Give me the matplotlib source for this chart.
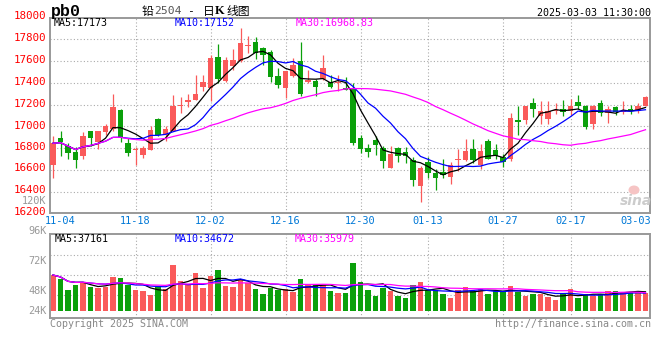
import matplotlib
matplotlib.use('Agg')
import numpy as np
import pandas as pd
import matplotlib.pyplot as plt
from matplotlib.patches import Ellipse

# ---------------- data ----------------
holidays = ['2025-01-01', '2025-01-28', '2025-01-29', '2025-01-30', '2025-01-31',
            '2025-02-03', '2025-02-04']
dates = [d for d in pd.bdate_range('2024-11-01', '2025-03-03')
         if d.strftime('%Y-%m-%d') not in holidays]

opens = [16650, 16890, 16820, 16765, 16725, 16955, 16855, 16945, 16980, 17150,
         16850, 16780, 16740, 16785, 17070, 16920, 16955, 17190, 17220, 17245,
         17365, 17350, 17640, 17420, 17555, 17595, 17735, 17770, 17715, 17685,
         17465, 17350, 17465, 17595, 17405, 17420, 17435, 17410, 17395, 17355,
         17350, 16890, 16805, 16875, 16800, 16620, 16800, 16765, 16690, 16450,
         16670, 16575, 16580, 16540, 16690, 16695, 16790, 16645, 16865, 16780,
         16720, 16700, 17055, 17055, 17210, 17095, 17070, 17140, 17155, 17140,
         17220, 17185, 17020, 17215, 17125, 17180, 17130, 17160, 17140, 17185]
closes = [16845, 16855, 16755, 16695, 16910, 16890, 16955, 17005, 17180, 16905,
          16760, 16795, 16800, 16965, 16920, 16980, 17190, 17200, 17240, 17300,
          17405, 17630, 17435, 17610, 17610, 17760, 17740, 17670, 17655, 17450,
          17375, 17505, 17565, 17300, 17425, 17365, 17535, 17365, 17410, 17335,
          16850, 16790, 16765, 16825, 16685, 16745, 16730, 16730, 16510, 16615,
          16575, 16525, 16550, 16650, 16695, 16770, 16695, 16770, 16705, 16730,
          16670, 17080, 17040, 17185, 17155, 17140, 17140, 17150, 17130, 17190,
          17185, 16995, 17190, 17125, 17160, 17130, 17140, 17140, 17190, 17265]
highs = [16910, 16955, 16850, 16810, 16945, 16960, 16960, 17025, 17300, 17160,
         16895, 16815, 16820, 17000, 17080, 17005, 17290, 17270, 17300, 17475,
         17475, 17655, 17755, 17640, 17705, 17905, 17825, 17820, 17730, 17700,
         17535, 17505, 17625, 17775, 17520, 17430, 17650, 17475, 17475, 17450,
         17395, 16920, 16835, 16910, 16820, 16820, 16810, 16810, 16715, 16640,
         16720, 16610, 16700, 16670, 16795, 16880, 16880, 16835, 16880, 16835,
         16745, 17125, 17185, 17185, 17260, 17230, 17230, 17215, 17240, 17250,
         17290, 17200, 17200, 17240, 17185, 17185, 17230, 17200, 17215, 17280]
lows = [16530, 16730, 16705, 16620, 16705, 16820, 16790, 16925, 16955, 16855,
        16725, 16650, 16710, 16785, 16910, 16865, 16955, 17125, 17180, 17245,
        17320, 17230, 17395, 17410, 17520, 17590, 17675, 17620, 17565, 17410,
        17350, 17260, 17455, 17275, 17395, 17275, 17425, 17350, 17320, 17330,
        16825, 16760, 16715, 16740, 16620, 16615, 16670, 16665, 16455, 16310,
        16525, 16420, 16530, 16470, 16595, 16685, 16665, 16610, 16700, 16705,
        16625, 16685, 16925, 17020, 17090, 17020, 17020, 17110, 17095, 17100,
        17160, 16975, 16975, 17095, 17035, 17100, 17110, 17110, 17125, 17185]
volumes = [70700, 62800, 41000, 49900, 56800, 47500, 44000, 47900, 66700, 64700,
           49900, 41000, 39000, 31100, 46300, 43000, 90900, 59200, 49900, 75000,
           44900, 69300, 80600, 48900, 46900, 62800, 53900, 43000, 33100, 44400,
           41000, 43000, 37000, 62800, 50900, 50900, 50900, 39000, 35400, 35400,
           94800, 56800, 41000, 29500, 44600, 39000, 29500, 25500, 50900, 56800,
           41000, 40000, 33100, 25500, 41000, 46900, 39000, 43000, 33100, 39000,
           39000, 48900, 37000, 29100, 33100, 33100, 27100, 21200, 32100, 43000,
           25100, 33100, 29100, 33100, 39000, 39000, 37000, 37000, 39000, 35000]

date_ticks = ['11-04', '11-18', '12-02', '12-16', '12-30', '01-13', '01-27', '02-17', '03-03']
price_ticks = [18000, 17800, 17600, 17400, 17200, 17000, 16800, 16600, 16400, 16200]
vol_tick_labels = ['120K', '96K', '72K', '48K', '24K']

# ---------------- style ----------------
RED = '#fa5a5a'
GREEN = '#0aa00a'
GRID = '#aaaaaa'
FRAME = '#999999'
MONO = 'DejaVu Sans Mono'
CJK = ['Noto Sans CJK SC', 'DejaVu Sans']

W, H = 660, 360
fig = plt.figure(figsize=(W / 100, H / 100), dpi=100)
fig.patch.set_facecolor('white')


def fx(x):
    return x / W


def fy(y):
    return 1 - y / H


def ptext(x, y, s, **kw):
    kw.setdefault('va', 'center')
    fig.text(fx(x), fy(y), s, **kw)


n = len(closes)
xs = np.arange(n)
o = np.array(opens, float)
c = np.array(closes, float)
hi = np.array(highs, float)
lo = np.array(lows, float)
vol = np.array(volumes, float)
up = c >= o
cols = np.where(up, RED, GREEN)
labels_all = [d.strftime('%m-%d') for d in dates]
tick_idx = [labels_all.index(t) for t in date_ticks]

# ---------------- price panel ----------------
ax = fig.add_axes([fx(50), fy(212.5), fx(600), 194.5 / H])
ax.set_xlim(-0.4, n - 0.4)
ax.set_ylim(16210, 17993)
ax.set_xticks([])
ax.set_yticks([])
for sp in ax.spines.values():
    sp.set_color(FRAME)
    sp.set_linewidth(1.4)
for v in price_ticks[1:-1]:
    ax.axhline(v, color=GRID, lw=0.8, ls=(0, (1, 2)), zorder=0)
for i in tick_idx[1:-1]:
    ax.axvline(i, color=GRID, lw=0.8, ls=(0, (1, 2)), zorder=0)

ax.vlines(xs, lo, hi, colors=cols, lw=0.9, zorder=2)
body = np.maximum(np.abs(c - o), 8)
ax.bar(xs, body, bottom=np.minimum(o, c), width=0.78, color=cols, lw=0, zorder=3)

s = pd.Series(c)
ax.plot(xs, s.rolling(5, min_periods=1).mean(), color='black', lw=0.9, zorder=4)
ax.plot(xs, s.rolling(10, min_periods=1).mean(), color='#0000ff', lw=0.9, zorder=4)
ax.plot(xs, s.rolling(30, min_periods=1).mean(), color='#ff00ff', lw=0.9, zorder=4)

# ---------------- volume panel ----------------
axv = fig.add_axes([fx(50), fy(318), fx(600), 84 / H])
axv.set_xlim(-0.4, n - 0.4)
axv.set_ylim(-14500, 151900)
axv.set_xticks([])
axv.set_yticks([])
for sp in axv.spines.values():
    sp.set_color(FRAME)
    sp.set_linewidth(1.4)
for gy in [254.7, 275.3, 295.3]:
    f = (318 - gy) / 84
    axv.plot([0, 1], [f, f], transform=axv.transAxes, color=GRID, lw=0.8,
             ls=(0, (1, 2)), zorder=0)
for i in tick_idx[1:-1]:
    axv.axvline(i, color=GRID, lw=0.8, ls=(0, (1, 2)), zorder=0)
axv.bar(xs, vol, width=0.78, color=cols, lw=0, zorder=2)
vs = pd.Series(vol)
axv.plot(xs, vs.rolling(5, min_periods=1).mean(), color='black', lw=0.9, zorder=4)
axv.plot(xs, vs.rolling(10, min_periods=1).mean(), color='#0000ff', lw=0.9, zorder=4)
axv.plot(xs, vs.rolling(30, min_periods=1).mean(), color='#ff00ff', lw=0.9, zorder=4)

# ---------------- texts ----------------
# header
ptext(50.5, 11.5, 'pb0', family='Liberation Mono', weight='bold', fontsize=12, color='black')
ptext(141.5, 11, '铅', family=CJK, fontsize=8.5, color='black')
ptext(154, 11, '2504', family=MONO, fontsize=8.2, color='#555555')
ptext(187.5, 11, '-', family=MONO, fontsize=8.2, color='black')
ptext(203, 11, '日', family=CJK, fontsize=8.5, color='black')
ptext(215, 11, 'K', family='Liberation Serif', weight='bold', fontsize=9, color='black')
ptext(226, 11, '线图', family=CJK, fontsize=8.5, color='black')
ptext(651, 12.5, '2025-03-03 11:30:00', family=MONO, fontsize=7.2, color='black', ha='right')

# price MA header
ma5 = s.rolling(5).mean().iloc[-1]
ma10 = s.rolling(10).mean().iloc[-1]
ptext(54, 23.5, 'MA5:%d' % round(ma5), family=MONO, fontsize=7.2, color='black')
ptext(175, 23.5, 'MA10:%d' % round(ma10), family=MONO, fontsize=7.2, color='#0000ff')
ptext(296, 23.5, 'MA30:16968.83', family=MONO, fontsize=7.2, color='#ff00ff')

# price axis labels
price_label_y = [16.0, 37.7, 60.0, 82.0, 104.0, 126.0, 146.7, 168.3, 190.3, 211.7]
for v, yy in zip(price_ticks, price_label_y):
    ptext(46.5, yy, str(v), family=MONO, fontsize=7.8, color='#ff0000', ha='right')

# volume axis labels
for t, yy in zip(vol_tick_labels, [200.7, 230.7, 260.7, 290.7, 310.7]):
    ptext(46.5, yy, t, family=MONO, fontsize=7.4, color='#999999', ha='right')

# date labels
x0 = 53.0
step = 7.5
for t, i in zip(date_ticks, tick_idx):
    if t == date_ticks[-1]:
        ptext(651, 221.5, t, family=MONO, fontsize=7.4, color='#0078d7', ha='right')
    else:
        ptext(x0 + i * step, 221.5, t, family=MONO, fontsize=7.4, color='#0078d7', ha='center')

# volume MA header
ptext(55, 239.5, 'MA5:37161', family=MONO, fontsize=7.2, color='black')
ptext(175, 239.5, 'MA10:34672', family=MONO, fontsize=7.2, color='#0000ff')
ptext(295, 239.5, 'MA30:35979', family=MONO, fontsize=7.2, color='#ff00ff')

# footer
ptext(50, 324, 'Copyright 2025 SINA.COM', family=MONO, fontsize=7.2, color='#888888')
ptext(651, 324, 'http://finance.sina.com.cn', family=MONO, fontsize=7.2, color='#888888', ha='right')

# sina watermark
fig.add_artist(Ellipse((fx(634), fy(190)), width=11 / W, height=9 / H,
                       facecolor='#f6c4c4', edgecolor='none', transform=fig.transFigure))
ptext(636, 201, 'sina', family='DejaVu Sans', style='italic', weight='bold',
      fontsize=10, color='#cccccc', ha='center')

fig.savefig('out.png', dpi=100)
